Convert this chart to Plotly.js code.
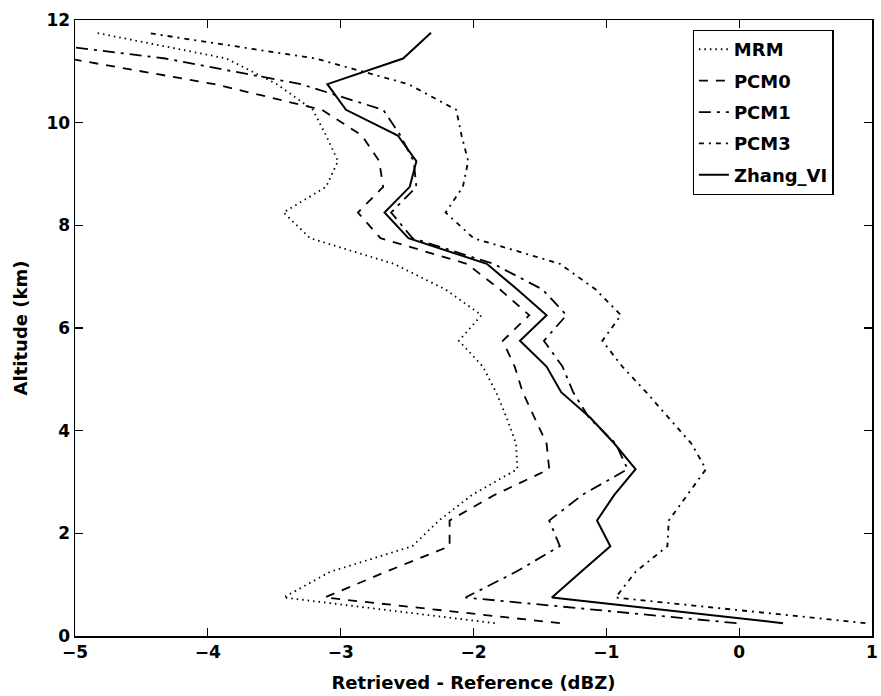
<!DOCTYPE html>
<html>
<head>
<meta charset="utf-8">
<script src="https://cdn.plot.ly/plotly-3.0.1.min.js"></script>
<style>
  html, body { margin: 0; padding: 0; background: #fff; }
  #chart { width: 881px; height: 696px; }
</style>
</head>
<body>
<div id="chart"></div>
<script>
// Altitude levels (km)
const altitude = [0.25, 0.75, 1.25, 1.75, 2.25, 2.75, 3.25, 3.75, 4.25, 4.75, 5.25, 5.75,
                  6.25, 6.75, 7.25, 7.75, 8.25, 8.75, 9.25, 9.75, 10.25, 10.75, 11.25, 11.75];

// Retrieved - Reference (dBZ) for each method
const MRM    = [-1.84, -3.43, -3.08, -2.46, -2.26, -2.01, -1.67, -1.68, -1.75, -1.83, -1.93, -2.11,
                -1.94, -2.21, -2.60, -3.23, -3.43, -3.11, -3.02, -3.11, -3.21, -3.48, -3.86, -4.84];
const PCM0   = [-1.35, -3.12, -2.66, -2.18, -2.18, -1.84, -1.43, -1.45, -1.54, -1.63, -1.69, -1.78,
                -1.58, -1.80, -2.05, -2.70, -2.87, -2.68, -2.71, -2.84, -3.14, -3.95, -5.05, -6.10];
const PCM1   = [-0.02, -2.06, -1.68, -1.35, -1.43, -1.18, -0.84, -0.93, -1.13, -1.25, -1.33, -1.47,
                -1.30, -1.48, -1.85, -2.46, -2.62, -2.43, -2.45, -2.55, -2.68, -3.30, -4.32, -5.90];
const PCM3   = [0.95, -0.93, -0.78, -0.54, -0.53, -0.39, -0.25, -0.36, -0.53, -0.70, -0.88, -1.03,
                -0.89, -1.08, -1.35, -2.00, -2.21, -2.08, -2.04, -2.09, -2.13, -2.49, -3.19, -4.46];
const ZhangVI = [0.33, -1.41, -1.19, -0.97, -1.07, -0.94, -0.78, -0.94, -1.12, -1.34, -1.45, -1.65,
                -1.45, -1.67, -1.90, -2.49, -2.67, -2.48, -2.43, -2.57, -2.96, -3.10, -2.53, -2.32];

const seriesNames = ["MRM", "PCM0", "PCM1", "PCM3", "Zhang_VI"];
const seriesData = [MRM, PCM0, PCM1, PCM3, ZhangVI];
const seriesDash = ["1.5px,4px", "9px,8px", "12px,6px,3px,6px", "5px,5px,2px,5px", "solid"];
const seriesWidth = [1.8, 1.8, 1.8, 1.8, 2];

const xTicks = [-5, -4, -3, -2, -1, 0, 1];
const yTicks = [0, 2, 4, 6, 8, 10, 12];

const traces = seriesNames.map((name, i) => ({
  type: "scatter",
  mode: "lines",
  name: name,
  x: seriesData[i],
  y: altitude,
  legendgroup: name,
  line: { color: "#000", width: seriesWidth[i], dash: seriesDash[i] }
}));

const tickFont = { family: "DejaVu Sans", size: 17, color: "#000", weight: "bold" };
const titleFont = { family: "DejaVu Sans", size: 18, color: "#000", weight: "bold" };

const layout = {
  width: 881,
  height: 696,
  margin: { l: 75, r: 9, t: 20, b: 59.5 },
  paper_bgcolor: "#fff",
  plot_bgcolor: "#fff",
  showlegend: true,
  legend: {
    x: 0.775, y: 0.984, xanchor: "left", yanchor: "top",
    bordercolor: "#000", borderwidth: 1.2, bgcolor: "#fff",
    font: { family: "DejaVu Sans", size: 18, color: "#000", weight: "bold" },
    tracegroupgap: 5,
    itemwidth: 30
  },
  xaxis: {
    range: [-5, 1],
    tickvals: xTicks,
    ticks: "inside", ticklen: 8, tickwidth: 1.2, tickcolor: "#000",
    showline: true, linecolor: "#000", linewidth: 1.5, mirror: "ticks",
    showgrid: false, zeroline: false,
    tickfont: tickFont,
    automargin: false,
    title: { text: "Retrieved - Reference (dBZ)", font: titleFont, standoff: 15 }
  },
  yaxis: {
    range: [0, 12],
    tickvals: yTicks,
    ticks: "inside", ticklen: 8, tickwidth: 1.2, tickcolor: "#000",
    showline: true, linecolor: "#000", linewidth: 1.5, mirror: "ticks",
    showgrid: false, zeroline: false,
    tickfont: tickFont,
    automargin: false,
    title: { text: "Altitude (km)", font: titleFont, standoff: 14 }
  }
};

Plotly.newPlot("chart", traces, layout, { displayModeBar: false, staticPlot: true });
</script>
</body>
</html>
